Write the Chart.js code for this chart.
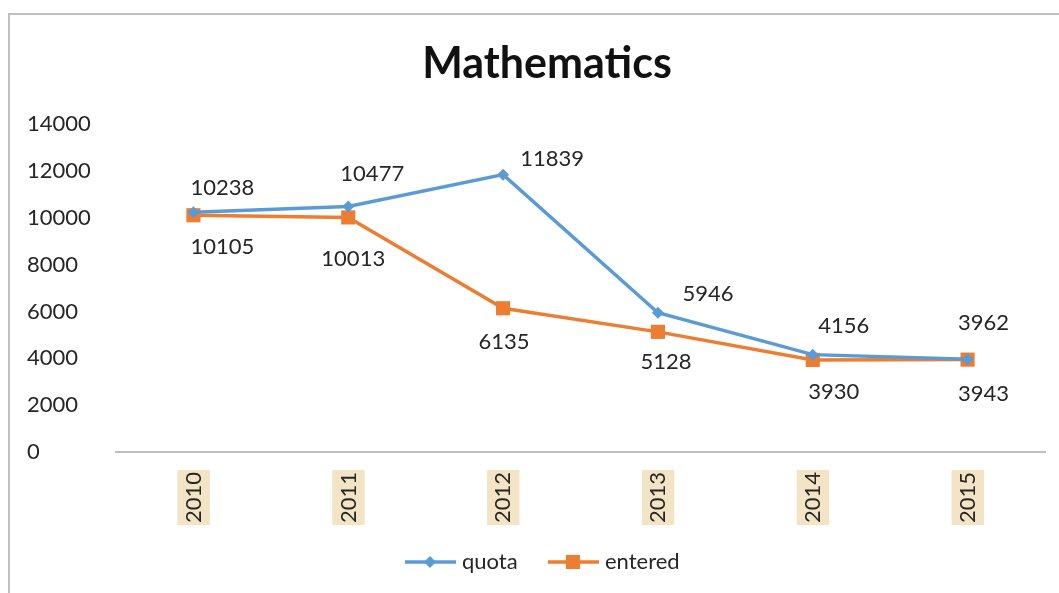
<!DOCTYPE html>
<html>
<head>
<meta charset="utf-8">
<script src="https://cdn.jsdelivr.net/npm/chart.js@4"></script>
<style>
  html, body { margin: 0; padding: 0; background: #fff; }
  #wrap { position: relative; width: 1059px; height: 593px; }
</style>
</head>
<body>
<div id="wrap"><canvas id="mathChart" width="1059" height="593"></canvas></div>
<script>
const chartTitle = 'Mathematics';
const years = ['2010', '2011', '2012', '2013', '2014', '2015'];
const quota = [10238, 10477, 11839, 5946, 4156, 3962];
const entered = [10105, 10013, 6135, 5128, 3930, 3943];
const yTicks = [0, 2000, 4000, 6000, 8000, 10000, 12000, 14000];

const FONT = 'Lato, "Open Sans", sans-serif';
const TEXT = '#262626';

// where excel put each value label, relative to its point
const labelShift = [
  [[29, -24], [24, -33], [49, -16], [50, -19], [31, -29], [16, -36]],
  [[29, 32], [5, 41], [1, 34], [8, 30], [21, 32], [16, 34]]
];

const frame = {
  id: 'frame',
  beforeDraw(chart) {
    const ctx = chart.ctx;
    ctx.save();
    ctx.fillStyle = '#fff';
    ctx.fillRect(0, 0, chart.width, chart.height);
    ctx.strokeStyle = '#bfbfbf';
    ctx.lineWidth = 2;
    ctx.beginPath();
    ctx.moveTo(9, chart.height);
    ctx.lineTo(9, 14);
    ctx.lineTo(chart.width, 14);
    ctx.stroke();
    // title sits a bit right of centre, as in the excel frame
    ctx.font = 'bold 43px ' + FONT;
    ctx.fillStyle = '#111';
    ctx.textAlign = 'center';
    ctx.textBaseline = 'alphabetic';
    ctx.fillText(chartTitle, 547, 78);
    ctx.restore();
  }
};

const valueLabels = {
  id: 'valueLabels',
  afterDatasetsDraw(chart) {
    const ctx = chart.ctx;
    ctx.save();
    ctx.font = '22px ' + FONT;
    ctx.fillStyle = TEXT;
    ctx.textAlign = 'center';
    ctx.textBaseline = 'middle';
    chart.data.datasets.forEach((ds, d) => {
      chart.getDatasetMeta(d).data.forEach((pt, i) => {
        const s = labelShift[d][i];
        ctx.fillText(ds.data[i], pt.x + s[0], pt.y + s[1]);
      });
    });
    ctx.restore();
  }
};

const lineLegend = {
  id: 'lineLegend',
  afterDraw(chart) {
    const ctx = chart.ctx;
    const y = 562;
    const starts = [405, 548];
    ctx.save();
    ctx.font = '22px ' + FONT;
    ctx.textBaseline = 'middle';
    chart.data.datasets.forEach((ds, d) => {
      const x = starts[d];
      ctx.strokeStyle = ds.borderColor;
      ctx.lineWidth = 3.5;
      ctx.beginPath();
      ctx.moveTo(x, y);
      ctx.lineTo(x + 51, y);
      ctx.stroke();
      ctx.fillStyle = ds.backgroundColor;
      Chart.helpers.drawPoint(ctx, { pointStyle: ds.pointStyle, radius: ds.pointRadius, rotation: 0, borderWidth: 0 }, x + 25, y);
      ctx.fillStyle = TEXT;
      ctx.fillText(ds.label, x + 57, y);
    });
    ctx.restore();
  }
};

new Chart(document.getElementById('mathChart'), {
  type: 'line',
  data: {
    labels: years,
    datasets: [
      {
        label: 'quota',
        data: quota,
        borderColor: '#5b9bd5',
        backgroundColor: '#5b9bd5',
        borderWidth: 3.5,
        pointStyle: 'rectRot',
        pointRadius: 6,
        pointBorderWidth: 0,
        tension: 0
      },
      {
        label: 'entered',
        data: entered,
        borderColor: '#ed7d31',
        backgroundColor: '#ed7d31',
        borderWidth: 3.5,
        pointStyle: 'rect',
        pointRadius: 10,
        pointBorderWidth: 0,
        tension: 0
      }
    ]
  },
  options: {
    responsive: false,
    animation: false,
    layout: { padding: { left: 27, right: 14, top: 124, bottom: 60 } },
    plugins: {
      legend: { display: false },
      tooltip: { enabled: false },
      title: { display: false }
    },
    scales: {
      x: {
        offset: true,
        grid: { display: false, drawTicks: false },
        border: { display: true, color: '#bfbfbf', width: 2 },
        ticks: {
          color: TEXT,
          font: { family: FONT, size: 22 },
          minRotation: 90,
          maxRotation: 90,
          padding: 20,
          labelOffset: -13,
          showLabelBackdrop: true,
          backdropColor: '#f2e4c4',
          backdropPadding: { top: 3, bottom: 3, left: 2, right: 2 }
        },
        afterFit(scale) { scale.height = 81; }
      },
      y: {
        min: 0,
        max: 14000,
        afterBuildTicks(scale) { scale.ticks = yTicks.map(v => ({ value: v })); },
        grid: { display: false, drawTicks: false },
        border: { display: false },
        ticks: {
          color: TEXT,
          font: { family: FONT, size: 22 },
          crossAlign: 'far',
          padding: 0,
          callback: v => String(v)
        },
        afterFit(scale) { scale.width = 89; }
      }
    }
  },
  plugins: [frame, valueLabels, lineLegend]
});
</script>
</body>
</html>
